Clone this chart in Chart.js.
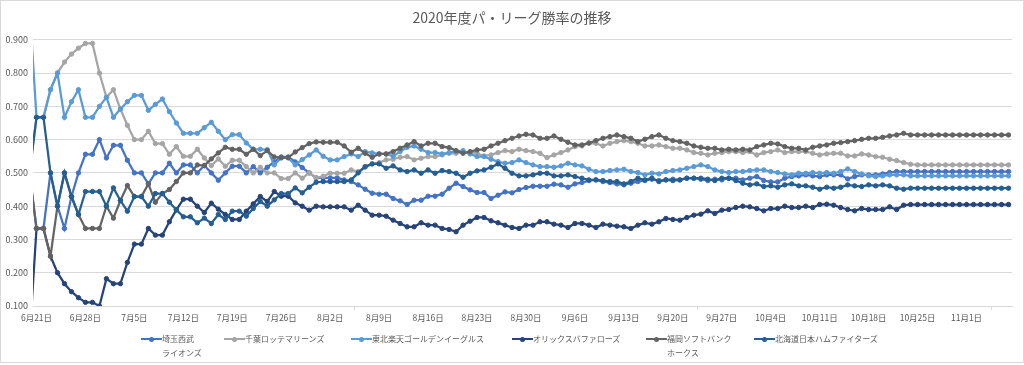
<!DOCTYPE html>
<html lang="ja">
<head>
<meta charset="utf-8">
<title>2020年度パ・リーグ勝率の推移</title>
<script src="https://cdn.jsdelivr.net/npm/chart.js@4.4.1/dist/chart.umd.min.js"></script>
<style>
  html, body { margin: 0; padding: 0; background: #fff; }
  #wrap { position: relative; width: 1024px; height: 365px; overflow: hidden; }
  #chart { position: absolute; left: 0; top: 0; }
  #frame { position: absolute; left: 0; top: 0; width: 1024px; height: 363px; box-sizing: border-box;
           border: 1px solid #D9D9D9; pointer-events: none; }
  #legend { position: absolute; left: 0; top: 332px; width: 1024px; height: 30px;
            font-family: 'Noto Sans CJK JP', 'Noto Sans', sans-serif; font-size: 8px; color: #595959; }
  .item { position: absolute; top: 0; display: flex; align-items: flex-start; }
  .swatch { position: relative; width: 21px; height: 14px; flex: none; }
  .swatch .ln { position: absolute; left: 0; right: 0; top: 6px; height: 2px; }
  .swatch .dot { position: absolute; left: 8px; top: 4.5px; width: 5px; height: 5px; border-radius: 50%; }
  .label { line-height: 14px; white-space: pre; }
</style>
</head>
<body>
<div id="wrap">
  <canvas id="chart" width="1024" height="365"></canvas>
  <div id="legend"></div>
  <div id="frame"></div>
</div>
<script>
// 6/19 - 11/7 (axis starts at 6/21)
const dates = [
  '6月19日','6月20日','6月21日','6月22日','6月23日','6月24日','6月25日','6月26日','6月27日','6月28日','6月29日','6月30日',
  '7月1日','7月2日','7月3日','7月4日','7月5日','7月6日','7月7日','7月8日','7月9日','7月10日','7月11日','7月12日','7月13日','7月14日','7月15日','7月16日','7月17日','7月18日','7月19日','7月20日','7月21日','7月22日','7月23日','7月24日','7月25日','7月26日','7月27日','7月28日','7月29日','7月30日','7月31日',
  '8月1日','8月2日','8月3日','8月4日','8月5日','8月6日','8月7日','8月8日','8月9日','8月10日','8月11日','8月12日','8月13日','8月14日','8月15日','8月16日','8月17日','8月18日','8月19日','8月20日','8月21日','8月22日','8月23日','8月24日','8月25日','8月26日','8月27日','8月28日','8月29日','8月30日','8月31日',
  '9月1日','9月2日','9月3日','9月4日','9月5日','9月6日','9月7日','9月8日','9月9日','9月10日','9月11日','9月12日','9月13日','9月14日','9月15日','9月16日','9月17日','9月18日','9月19日','9月20日','9月21日','9月22日','9月23日','9月24日','9月25日','9月26日','9月27日','9月28日','9月29日','9月30日',
  '10月1日','10月2日','10月3日','10月4日','10月5日','10月6日','10月7日','10月8日','10月9日','10月10日','10月11日','10月12日','10月13日','10月14日','10月15日','10月16日','10月17日','10月18日','10月19日','10月20日','10月21日','10月22日','10月23日','10月24日','10月25日','10月26日','10月27日','10月28日','10月29日','10月30日','10月31日',
  '11月1日','11月2日','11月3日','11月4日','11月5日','11月6日','11月7日'
];

const teams = ['埼玉西武ライオンズ', '千葉ロッテマリーンズ', '東北楽天ゴールデンイーグルス',
               'オリックスバファローズ', '福岡ソフトバンクホークス', '北海道日本ハムファイターズ'];

const seibu = [1.0, .5,
  .333,.333,.5,.4,.333,.429,.5,.556,.556,.6,
  .545,.583,.583,.538,.5,.5,.467,.5,.5,.529,
  .5,.524,.524,.5,.522,.5,.478,.5,.52,.52,
  .5,.519,.5,.517,.533,.548,.548,.533,.516,.5,
  .485,.485,.485,.485,.479,.474,.464,.451,.439,.436,
  .436,.423,.416,.405,.418,.418,.43,.43,.436,.454,
  .469,.459,.449,.441,.441,.423,.433,.443,.44,.45,
  .456,.46,.46,.46,.466,.464,.457,.467,.471,.477,
  .479,.474,.471,.467,.464,.469,.474,.477,.481,.477,
  .479,.481,.479,.484,.484,.481,.477,.481,.479,.484,
  .484,.479,.484,.489,.477,.473,.473,.484,.489,.491,
  .494,.491,.489,.494,.494,.494,.482,.489,.494,.494,
  .494,.497,.501,.504,.504,.504,.504,.504,.504,.504,
  .504,.504,.504,.504,.504,.504,.504,.504,.504,.504];

const lotte = [1.0, .5,
  .667,.667,.75,.8,.833,.857,.875,.889,.889,.8,
  .727,.75,.692,.643,.6,.6,.625,.588,.588,.556,
  .579,.55,.55,.571,.545,.522,.542,.52,.538,.538,
  .519,.5,.517,.5,.5,.483,.483,.5,.484,.5,
  .485,.49,.499,.499,.499,.509,.504,.517,.527,.531,
  .539,.541,.547,.549,.539,.544,.549,.549,.554,.559,
  .559,.564,.561,.559,.551,.554,.561,.567,.564,.571,
  .567,.564,.559,.546,.554,.561,.569,.579,.581,.589,
  .589,.581,.589,.594,.597,.594,.589,.581,.581,.584,
  .579,.574,.574,.569,.561,.559,.554,.559,.561,.564,
  .564,.561,.564,.554,.561,.564,.569,.561,.564,.564,
  .564,.559,.554,.557,.559,.559,.551,.551,.557,.554,
  .549,.547,.541,.537,.531,.526,.524,.524,.524,.524,
  .524,.524,.524,.524,.524,.524,.524,.524,.524,.524];

const rakuten = [1.0, 1.0,
  .667,.667,.75,.8,.667,.714,.75,.667,.667,.7,
  .727,.667,.692,.714,.733,.733,.688,.706,.722,.684,
  .65,.619,.619,.619,.636,.652,.625,.6,.615,.615,
  .59,.571,.571,.57,.524,.545,.545,.524,.54,.554,
  .569,.55,.539,.539,.549,.557,.549,.564,.56,.557,
  .557,.55,.564,.577,.581,.571,.561,.561,.557,.561,
  .564,.567,.557,.549,.549,.541,.534,.529,.531,.539,
  .531,.524,.519,.519,.517,.521,.529,.524,.521,.511,
  .504,.504,.507,.509,.511,.504,.501,.494,.499,.497,
  .504,.507,.509,.514,.519,.524,.519,.509,.504,.501,
  .504,.504,.507,.509,.509,.504,.501,.497,.494,.499,
  .499,.501,.499,.501,.499,.504,.512,.504,.497,.491,
  .489,.491,.494,.494,.494,.491,.491,.491,.491,.491,
  .491,.491,.491,.491,.491,.491,.491,.491,.491,.491];

const orix = [0, 0,
  .333,.333,.25,.2,.167,.143,.125,.111,.111,.1,
  .182,.167,.167,.231,.286,.286,.333,.313,.313,.353,
  .389,.421,.421,.4,.381,.409,.391,.375,.36,.36,
  .385,.407,.429,.414,.444,.43,.43,.41,.4,.388,
  .4,.398,.398,.398,.398,.388,.403,.388,.373,.373,
  .37,.358,.348,.338,.338,.35,.343,.343,.333,.33,
  .323,.343,.355,.366,.366,.356,.35,.343,.336,.333,
  .343,.343,.353,.353,.346,.343,.336,.348,.348,.343,
  .336,.346,.343,.34,.338,.333,.343,.35,.346,.353,
  .363,.36,.358,.366,.373,.376,.386,.378,.388,.39,
  .396,.4,.398,.393,.386,.393,.393,.4,.396,.396,
  .4,.396,.405,.406,.403,.396,.39,.386,.393,.39,
  .39,.39,.398,.39,.403,.405,.405,.405,.405,.405,
  .405,.405,.405,.405,.405,.405,.405,.405,.405,.405];

const softbank = [0, .5,
  .333,.333,.25,.4,.5,.429,.375,.333,.333,.333,
  .4,.364,.417,.462,.429,.429,.467,.412,.438,.45,
  .474,.5,.5,.524,.522,.542,.56,.577,.571,.571,
  .556,.571,.552,.567,.548,.546,.546,.563,.576,.588,
  .593,.592,.592,.592,.581,.562,.574,.559,.547,.557,
  .557,.564,.574,.584,.594,.581,.589,.589,.579,.576,
  .567,.559,.564,.569,.571,.581,.589,.597,.604,.611,
  .616,.614,.604,.604,.611,.601,.592,.584,.584,.59,
  .597,.604,.609,.614,.609,.604,.594,.601,.609,.614,
  .604,.597,.594,.589,.581,.577,.574,.574,.569,.571,
  .569,.571,.569,.579,.584,.589,.587,.579,.574,.574,
  .569,.577,.581,.584,.589,.591,.594,.597,.601,.604,
  .604,.607,.611,.614,.619,.614,.614,.614,.614,.614,
  .614,.614,.614,.614,.614,.614,.614,.614,.614,.614];

const nippon = [0, .5,
  .667,.667,.5,.4,.5,.429,.375,.444,.444,.444,
  .4,.455,.417,.385,.429,.429,.4,.438,.438,.412,
  .389,.368,.368,.35,.364,.348,.375,.36,.385,.385,
  .37,.393,.414,.4,.419,.438,.438,.455,.44,.457,
  .472,.474,.474,.474,.474,.479,.5,.519,.527,.527,
  .514,.521,.509,.504,.509,.499,.509,.499,.507,.504,
  .499,.487,.499,.506,.509,.517,.527,.514,.499,.491,
  .491,.494,.499,.499,.491,.491,.494,.489,.484,.479,
  .479,.477,.474,.474,.467,.474,.484,.479,.484,.474,
  .479,.477,.479,.484,.484,.484,.481,.477,.484,.484,
  .477,.469,.464,.467,.459,.461,.457,.464,.467,.461,
  .461,.457,.451,.457,.454,.457,.464,.461,.459,.464,
  .461,.464,.461,.454,.451,.454,.454,.454,.454,.454,
  .454,.454,.454,.454,.454,.454,.454,.454,.454,.454];

const series = [seibu, lotte, rakuten, orix, softbank, nippon];
const colors = ['#4472C4', '#A5A5A5', '#5B9BD5', '#264478', '#636363', '#255E91'];

Chart.defaults.font.family = "'Noto Sans CJK JP', 'Noto Sans', sans-serif";
Chart.defaults.color = '#595959';

const chart = new Chart(document.getElementById('chart'), {
  type: 'line',
  data: {
    labels: dates,
    datasets: series.map((d, i) => ({
      label: teams[i],
      data: d,
      borderColor: colors[i],
      backgroundColor: colors[i],
      borderWidth: 2.25,
      pointRadius: 2.2,
      pointBorderWidth: 1,
      tension: 0,
      order: series.length - i
    }))
  },
  options: {
    responsive: false,
    animation: false,
    events: [],
    layout: { padding: 0 },
    plugins: {
      legend: { display: false },
      tooltip: { enabled: false },
      title: {
        display: true,
        text: '2020年度パ・リーグ勝率の推移',
        font: { size: 14, weight: 'normal' },
        color: '#595959',
        padding: { top: 9, bottom: 14 }
      }
    },
    scales: {
      x: {
        type: 'category',
        min: '6月21日',
        max: '11月7日',
        offset: true,
        grid: {
          offset: true,
          drawOnChartArea: false,
          drawTicks: true,
          tickLength: 4,
          color: '#D9D9D9',
          tickColor: c => (c.index === undefined || c.index % 7 === 0) ? '#D9D9D9' : 'rgba(0,0,0,0)'
        },
        border: { display: true, color: '#D9D9D9' },
        ticks: {
          autoSkip: false,
          maxRotation: 0,
          minRotation: 0,
          padding: 3,
          font: { size: 8.5 },
          callback: function (value, index) {
            return index % 7 === 0 ? this.getLabelForValue(value) : null;
          }
        },
        afterFit: s => { s.height = 59; s.paddingRight = 12; }
      },
      y: {
        min: 0.1,
        max: 0.9,
        grid: { color: '#D9D9D9', drawTicks: false },
        border: { display: false },
        ticks: {
          stepSize: 0.1,
          padding: 5,
          font: { size: 9 },
          callback: v => v.toFixed(3)
        },
        afterFit: s => { s.width = 33; }
      }
    }
  }
});

// legend drawn below the plot like the original, with Excel's wrapping
const legendX = [141, 224, 351, 512, 646, 754];
const wrapAt = [4, 0, 0, 0, 8, 0];
const legend = document.getElementById('legend');
chart.data.datasets.forEach((ds, i) => {
  const item = document.createElement('div');
  item.className = 'item';
  item.style.left = legendX[i] + 'px';
  const sw = document.createElement('div');
  sw.className = 'swatch';
  sw.innerHTML = '<div class="ln" style="background:' + ds.borderColor + '"></div>' +
                 '<div class="dot" style="background:' + ds.borderColor + '"></div>';
  const lab = document.createElement('div');
  lab.className = 'label';
  const t = ds.label;
  lab.textContent = wrapAt[i] ? t.slice(0, wrapAt[i]) + '\n' + t.slice(wrapAt[i]) : t;
  item.appendChild(sw);
  item.appendChild(lab);
  legend.appendChild(item);
});
</script>
</body>
</html>
